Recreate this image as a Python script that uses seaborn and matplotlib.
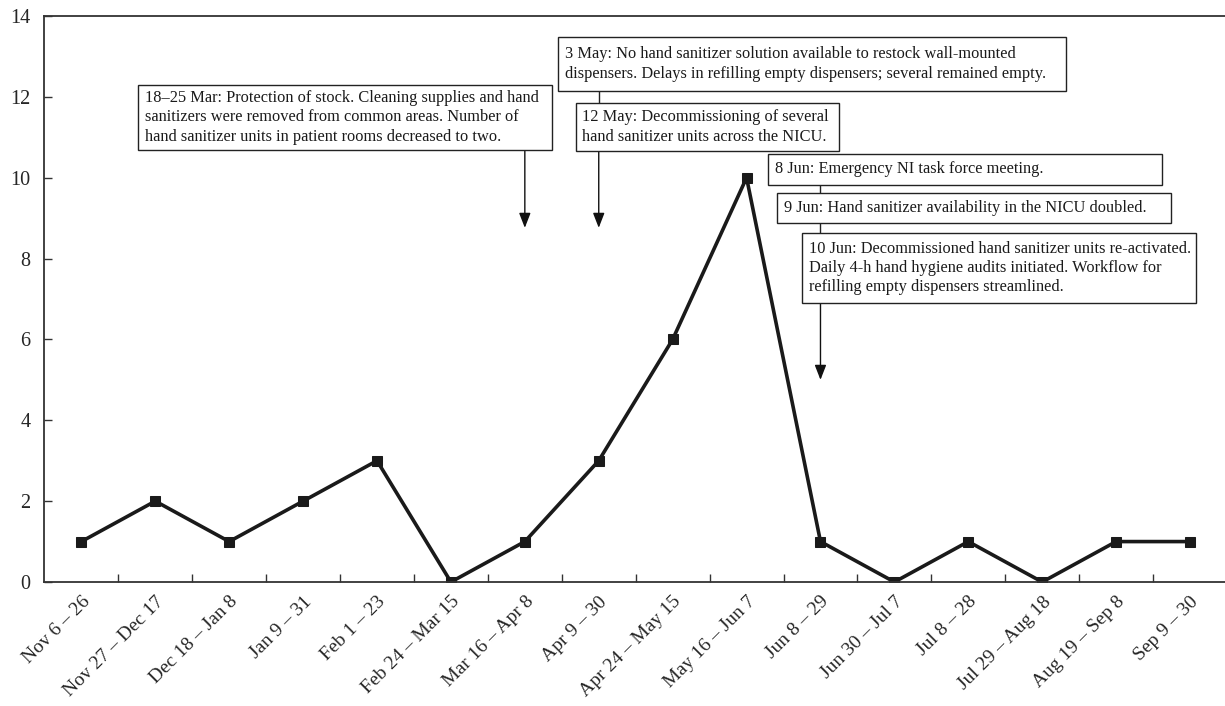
import matplotlib
matplotlib.use("Agg")
import matplotlib.pyplot as plt
import seaborn as sns
import pandas as pd
import numpy as np
from matplotlib.patches import Rectangle

periods = ["Nov 6 – 26", "Nov 27 – Dec 17", "Dec 18 – Jan 8", "Jan 9 – 31",
           "Feb 1 – 23", "Feb 24 – Mar 15", "Mar 16 – Apr 8", "Apr 9 – 30",
           "Apr 24 – May 15", "May 16 – Jun 7", "Jun 8 – 29", "Jun 30 – Jul 7",
           "Jul 8 – 28", "Jul 29 – Aug 18", "Aug 19 – Sep 8", "Sep 9 – 30"]
cases = [1, 2, 1, 2, 3, 0, 1, 3, 6, 10, 1, 0, 1, 0, 1, 1]
y_ticks = [0, 2, 4, 6, 8, 10, 12, 14]

notes_mar = "18–25 Mar: Protection of stock. Cleaning supplies and hand\nsanitizers were removed from common areas. Number of\nhand sanitizer units in patient rooms decreased to two."
notes_may3 = "3 May: No hand sanitizer solution available to restock wall-mounted\ndispensers. Delays in refilling empty dispensers; several remained empty."
notes_may12 = "12 May: Decommissioning of several\nhand sanitizer units across the NICU."
notes_jun8 = "8 Jun: Emergency NI task force meeting."
notes_jun9 = "9 Jun: Hand sanitizer availability in the NICU doubled."
notes_jun10 = "10 Jun: Decommissioned hand sanitizer units re-activated.\nDaily 4-h hand hygiene audits initiated. Workflow for\nrefilling empty dispensers streamlined."

sns.set_style("ticks")
plt.rcParams['font.family'] = ['Liberation Serif', 'DejaVu Serif']

df = pd.DataFrame({"idx": np.arange(len(periods)), "cases": cases})

fig = plt.figure(figsize=(12.25, 7.06), dpi=100)
ax = fig.add_axes([44.4 / 1225, 1 - 582 / 706, (1227 - 44.4) / 1225, (582 - 16) / 706])

sns.lineplot(data=df, x="idx", y="cases", ax=ax, color="#1a1a1a", linewidth=2.6,
             marker="s", markersize=7.5, markeredgecolor="#1a1a1a", markerfacecolor="#1a1a1a")

ax.set_xlim(-0.5, len(periods) - 0.5)
ax.set_ylim(0, 14)
ax.set_yticks(y_ticks)
ax.set_yticklabels([str(v) for v in y_ticks], fontsize=14.5)
ax.set_xticks(np.arange(len(periods)))
ax.set_xticklabels(periods, rotation=45, ha="right", rotation_mode="anchor", fontsize=14)
ax.set_xticks(np.arange(len(periods)) + 0.5, minor=True)
ax.tick_params(axis="x", which="major", length=0, pad=8)
ax.tick_params(axis="x", which="minor", direction="in", length=6, width=1, color="#333333")
ax.tick_params(axis="y", direction="in", length=6, width=1, color="#333333", pad=10)
ax.set_xlabel("")
ax.set_ylabel("")
for s in ["left", "bottom", "top"]:
    ax.spines[s].set_color("#333333")
    ax.spines[s].set_linewidth(1.3)
ax.spines["right"].set_visible(False)
ax.spines["top"].set_visible(True)

def box(x0, x1, y0, y1, text, tx_off=0.09):
    ax.add_patch(Rectangle((x0, y0), x1 - x0, y1 - y0, fill=True, facecolor="white",
                           edgecolor="#222222", linewidth=1.0, zorder=4))
    ax.text(x0 + tx_off, (y0 + y1) / 2, text, ha="left", va="center", fontsize=11.8,
            color="#1a1a1a", linespacing=1.28, zorder=5)

def link(x, y0, y1):
    ax.plot([x, x], [y0, y1], color="#222222", linewidth=1.0, zorder=3)

def arrow(x, y0, y1):
    ax.annotate("", xy=(x, y1), xytext=(x, y0),
                arrowprops=dict(arrowstyle="-|>,head_length=0.9,head_width=0.35",
                                color="#111111", lw=1.0, shrinkA=0, shrinkB=0), zorder=3)

box(0.767, 6.369, 10.69, 12.29, notes_mar)
arrow(6, 10.69, 8.76)

box(6.45, 13.32, 12.14, 13.48, notes_may3)
link(7, 12.14, 11.85)
box(6.69, 10.25, 10.66, 11.85, notes_may12)
arrow(7, 10.66, 8.76)

box(9.29, 14.62, 9.82, 10.59, notes_jun8)
link(10, 9.82, 9.62)
box(9.41, 14.74, 8.88, 9.62, notes_jun9)
link(10, 8.88, 8.63)
box(9.75, 15.08, 6.90, 8.63, notes_jun10)
arrow(10, 6.90, 5.0)

fig.savefig("out.png", dpi=100)
